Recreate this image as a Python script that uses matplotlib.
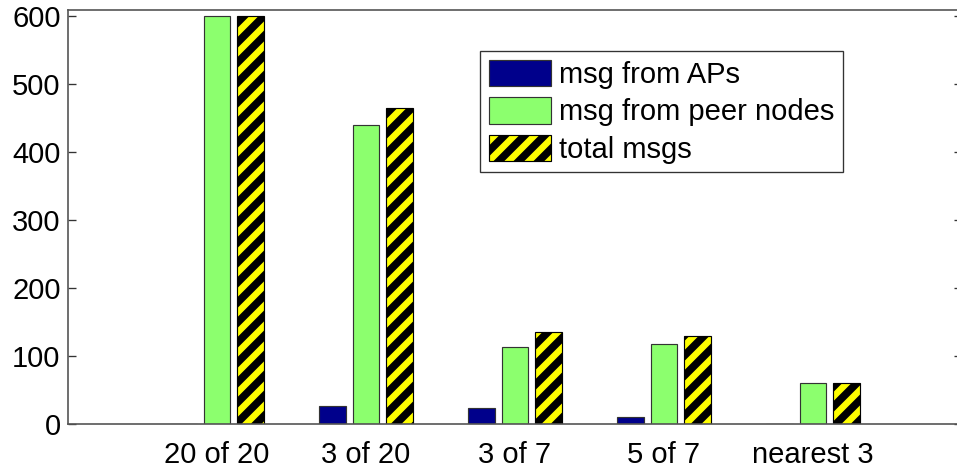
import numpy as np
import matplotlib

matplotlib.use("Agg")
import matplotlib.pyplot as plt

# message counts per neighbour-selection scheme
schemes = ["20 of 20", "3 of 20", "3 of 7", "5 of 7", "nearest 3"]
msg_from_aps = [0, 26, 24, 11, 0]
msg_from_peers = [600, 440, 113, 117, 61]
total_msgs = [600, 465, 136, 129, 61]
series_names = ["msg from APs", "msg from peer nodes", "total msgs"]

DPI = 120
FS = 17.5
plt.rcParams["font.family"] = ["Liberation Sans", "DejaVu Sans"]
plt.rcParams["hatch.linewidth"] = 4.6

fig = plt.figure(figsize=(957 / DPI, 470 / DPI), dpi=DPI)
ax = fig.add_axes([68 / 957, 46 / 470, 894 / 957, 414 / 470])

x = np.arange(1, len(schemes) + 1)
width = 0.18
step = 0.225
edge = dict(edgecolor="#333333", linewidth=0.7)

ax.bar(x - step, msg_from_aps, width, color="#00008b", label=series_names[0], **edge)
ax.bar(x, msg_from_peers, width, color="#8cff6e", label=series_names[1], **edge)
ax.bar(x + step, total_msgs, width, color="#ffff00", hatch="//",
       label=series_names[2], edgecolor="black", linewidth=0.7)

ax.set_xlim(0, 6)
ax.set_ylim(0, 609)
ax.set_yticks(range(0, 601, 100))
ax.set_xticks(x)
ax.set_xticklabels(schemes)
ax.tick_params(axis="y", direction="in", length=4.8, width=0.8, pad=4.5,
               labelsize=FS, right=True, color="#333333")
ax.tick_params(axis="x", length=0, pad=10, labelsize=FS)
for s in ax.spines.values():
    s.set_color("#555555")
    s.set_linewidth(1.0)

leg = ax.legend(loc="upper left", bbox_to_anchor=(480 / 957, 1 - 51 / 470),
                bbox_transform=fig.transFigure, fontsize=FS,
                handlelength=2.15, handleheight=1.02, handletextpad=0.25,
                labelspacing=0.28, borderpad=0.3, borderaxespad=0,
                fancybox=False, framealpha=1)
leg.get_frame().set_edgecolor("#333333")
leg.get_frame().set_linewidth(0.8)

fig.savefig("out.png", dpi=DPI)
